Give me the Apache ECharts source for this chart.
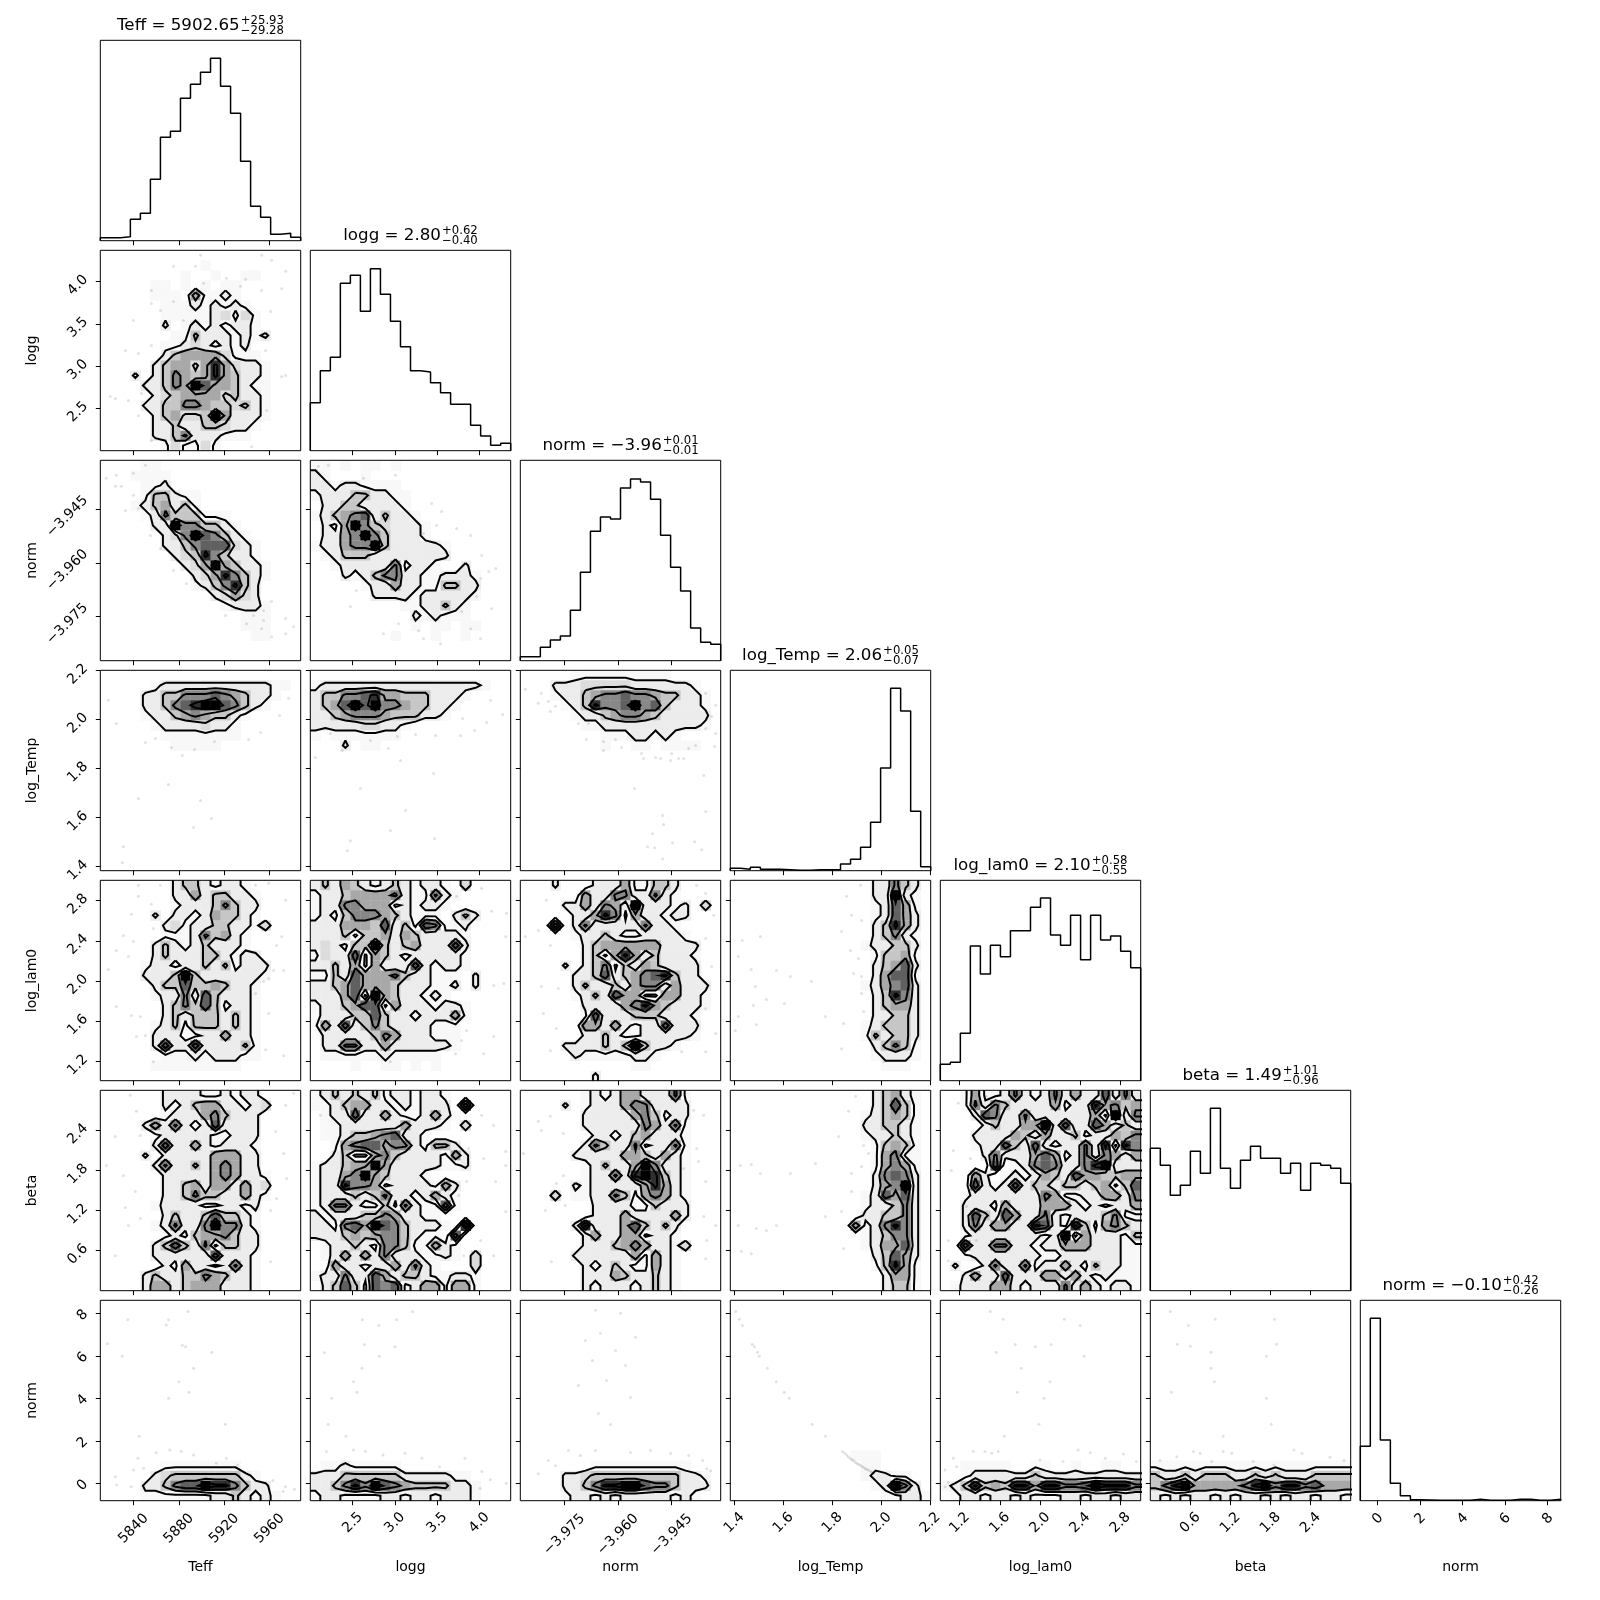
<!DOCTYPE html>
<html><head><meta charset="utf-8"><style>html,body{margin:0;padding:0;background:#fff}#c{width:1600px;height:1600px}</style>
<script src="https://cdn.jsdelivr.net/npm/echarts@6/dist/echarts.min.js"></script></head><body><div id="c"></div>
<script>
// ---- parameters: names, axis ranges, ticks
const paramNames = ["Teff","logg","norm","log_Temp","log_lam0","beta","norm"];
const ranges = [[5810.7,5987.5],[1.998,4.372],[-3.9873,-3.9313],[1.3837,2.2016],[1.007,3.003],[0,3],[-0.82,8.61]];
const tickValues = [[5840,5880,5920,5960],[2.5,3,3.5,4],[-3.975,-3.96,-3.945],[1.4,1.6,1.8,2,2.2],[1.2,1.6,2,2.4,2.8],[0.6,1.2,1.8,2.4],[0,2,4,6,8]];
const tickLabels = [["5840","5880","5920","5960"],["2.5","3.0","3.5","4.0"],["−3.975","−3.960","−3.945"],["1.4","1.6","1.8","2.0","2.2"],["1.2","1.6","2.0","2.4","2.8"],["0.6","1.2","1.8","2.4"],["0","2","4","6","8"]];
const titleMain = ["Teff = 5902.65","logg = 2.80","norm = −3.96","log_Temp = 2.06","log_lam0 = 2.10","beta = 1.49","norm = −0.10"];
const titleUp = ["+25.93","+0.62","+0.01","+0.05","+0.58","+1.01","+0.42"];
const titleDown = ["−29.28","−0.40","−0.01","−0.07","−0.55","−0.96","−0.26"];

// ---- 1D histograms (20 bins, arbitrary count scale)
const hTeff = [9,9,12,64,82,184,310,328,427,469,505,547,463,382,238,103,70,19,22,10];
const hLogg = [144,240,280,502,526,418,546,469,388,312,240,236,204,174,139,139,76,44,16,22];
const hNorm = [12,12,40,62,74,151,265,388,431,425,518,545,536,484,376,280,209,98,55,49];
const hTemp = [7,4,10,4,4,3,1,1,3,3,3,20,34,70,145,308,547,479,178,12];
const hLam0 = [49,55,142,404,320,406,372,450,450,520,548,437,406,496,363,496,422,434,388,339];
const hBeta = [427,376,286,316,418,352,547,367,307,391,433,397,397,352,382,301,382,376,367,322];
const hNorm2 = [163,547,182,52,15,3,2,1,1,1,1,4,1,1,1,4,4,1,1,4];
const hists = [hTeff,hLogg,hNorm,hTemp,hLam0,hBeta,hNorm2];

// ---- 2D histograms: 20 rows (top to bottom) of 20 density digits 0-9
const g_logg_Teff = ["00000000000000000000","00000000001000000000","00000000100100110000","00000110101011000000","00000111051121000000","00000011121212100000","00000011111231310000","00000020121212210000","00000001142221212000","00000011232121200000","00000024555531110000","00000245535853221000","00020246545854221000","00002246597554211000","00000234555534221000","00002244665443421000","00000245334952221000","00000224224432210000","00000224622211100000","00000013113100000000"];
const g_norm_Teff = ["00001100000000000000","00011110000000000000","00001120000000000000","00001442110000000000","00012452410000000000","00001264441110000000","00000229664421000000","00000023697642100000","00000022467773210000","00000002348642210000","00000000235954221000","00000000023586421000","00000000012468420000","00000000000235320000","00000000000012221000","00000000000000111000","00000000000000111000","00000000000000011000","00000000000000000000","00000000000000000000"];
const g_norm_logg = ["11010110100000000000","21000100000000000000","22122111100000000000","12224422110000000000","02244222210000000000","12456724221000000000","02159643222100000000","02256964222100000000","12256694222221000000","01244422222222000000","00122222612210020000","00021246622112221000","00000122522114422000","00000022221222221000","00000000011224210000","00000000002121110000","00000000001011011000","00000000100010010000","00000000000000000000","00000000000000000000"];
const g_temp_Teff = ["00000000000000000000","00000122222222222110","00002244666765422100","00002246789976421000","00001224565442100000","00000122223221000000","00000011111111000000","00000001111100000000","00000000000000000000","00000000000000000000","00000000000000000000","00000000000000000000","00000000000000000000","00000000000000000000","00000000000000000000","00000000000000000000","00000000000000000000","00000000000000000000","00000000000000000000","00000000000000000000"];
const g_temp_logg = ["00000000000000000000","12222222222222222100","24466785544422210000","24579796654422100000","22456665444221000000","22222332210000000000","10111111100000000000","00020110000000000000","00000000000000000000","00000000000000000000","00000000000000000000","00000000000000000000","00000000000000000000","00000000000000000000","00000000000000000000","00000000000000000000","00000000000000000000","00000000000000000000","00000000000000000000","00000000000000000000"];
const g_temp_norm = ["00000111111111100000","00022233333222222100","00012245667665442210","00001248667967422210","00000122456654222220","00000011222222222210","00000000111221210000","00000000100110111100","00000000000000000000","00000000000000000000","00000000000000000000","00000000000000000000","00000000000000000000","00000000000000000000","00000000000000000000","00000000000000000000","00000000000000000000","00000000000000000000","00000000000000000000","00000000000000000000"];
const g_lam_Teff = ["00000002442122100000","00000002252442210000","00000001222464220000","00000202212544210000","00000023122442213000","00000011126452100000","00000242124222100000","00000242224421220000","00001221224241222000","00002224942222221000","00000244744542210000","00000122627422210000","00000024647412210000","00000024244424210000","00000124144424210000","00000222112252210000","00000272272222410000","00000011121222110000","00000111111111000000","00000000000000000000"];
const g_lam_logg = ["24254212421221030000","12245555621162100000","12266555121221000000","12146665421110242000","22255547241761120000","22241445254222210000","23214494245222720000","13227154212222210000","22425152227212210000","11427555642211102000","22457555422211202000","22257195422121000000","12245771522212210000","12224474221222510000","15272464222211100000","02222246522211100000","02266225222222100000","01111112111110000000","00001001101010000000","00000000000000000000"];
const g_lam_norm = ["00020002225114420000","00000052266226210000","00002252652922212030","00000225861522122000","00070262222262210000","00000122421122221000","00000024555555222200","00000024158524222100","00002024614254222200","00000224724567842200","00000242242566252220","00000124275511552210","00000022225685422210","00000017222444222100","00000055252122722200","00000022421122222100","00002222424942210000","00000211111221000000","00000000000110000000","00000002000000000000"];
const g_lam_temp = ["00000000000000226420","00000000000000229210","00000000000000127510","00000000000000127520","00000000000000248520","00000000000000246210","00000000000001224420","00000000000000144510","00000000000000245720","00000000000000257710","00000000000001256720","00000000000000248620","00000000000000245520","00000000000000224420","00000000000001244420","00000000000001424420","00000000000000246410","00000000000000122210","00000000000000011100","00000000000000000000"];
const g_beta_Teff = ["00000022221121220000","00000021245522123000","00000012225642220000","00002526212722220000","00000122222112220000","00000272252122210000","00002022222555220000","00000262242565220000","00000022222565221000","00000022452552523000","00000022464422521000","00000122221122120000","00000024224744210000","00000126226966210000","00000012145564220000","00000247426144220000","00000222222722210000","00000021522126210000","00002422446542210000","00002552455522210000"];
const g_beta_logg = ["12424241221221000000","11245522121222070000","01227225211252100000","01122222252221030000","01124456722100000000","00156775662144200000","00241156422221520000","12245595222221120000","12256954222100000000","12286651222215200000","12224246221252100000","12662114162117100000","21222446522110000000","22167597642221080000","22245456642110700000","01224216641152100000","01252526222112103000","00522122526210003000","12262275244211221000","02474176712551551000"];
const g_beta_norm = ["00000012125522261000","00002012225662222000","00000022222564122000","00000022222265261000","00000002212452221000","00000026422612261000","00000222225542521000","00000012422596221000","00000012262898421000","00000212222258521000","00030112264156521000","00000002222114222000","00000002225222252000","00000282225742420000","00000025225512210000","00000022245652213000","00000222222515210000","00000021242115210000","00000022254224210000","00000021222124210000"];
const g_beta_temp = ["00000000000000245210","00000000000000247410","00000000000001245410","00000000000002244210","00000000000001224210","00000000000000145410","00000000000000156110","00000000000000156510","00000000000000267620","00000000000000256920","00000000000001275720","00000000000001224620","00000000000002244620","00000000000051268620","00000000000001246620","00000000000001255720","00000000000000247520","00000000000000148510","00000000000000025510","00000000000000024410"];
const g_beta_lam = ["00151126212625227262","00162642222512285645","00027622622222251926","00002422559272275242","00022225425224122546","00012274272122628186","00002622257512626525","00000701267622689222","00052012125427554455","00072127244244245147","00122222226511225526","00222152225552121225","00274275226212224611","00262552287218415642","00122222221291522214","00722662212255522211","00122222221122222211","02002622612252142211","00252272225525212111","01222552122262521221"];
const blank = "00000000000000000000";
const g_n2_Teff = [blank,blank,blank,blank,blank,blank,blank,blank,blank,blank,blank,blank,blank,blank,blank,blank,"00000011111111000000","00000234444444210000","00002246779886422000","00001111111224212100"];
const g_n2_logg = [blank,blank,blank,blank,blank,blank,blank,blank,blank,blank,blank,blank,blank,blank,blank,blank,"01121111100000000000","22244444422222110000","22468697654444221000","12211112212212221000"];
const g_n2_norm = [blank,blank,blank,blank,blank,blank,blank,blank,blank,blank,blank,blank,blank,blank,blank,blank,"00000001111111111000","00002234444444442210","00002246889976642220","00001221212222212100"];
const g_n2_temp = [blank,blank,blank,blank,blank,blank,blank,blank,blank,blank,blank,blank,blank,blank,blank,"00000000000011100000","00000000000001100000","00000000000001221100","00000000000000129620","00000000000000011221"];
const g_n2_lam = [blank,blank,blank,blank,blank,blank,blank,blank,blank,blank,blank,blank,blank,blank,blank,blank,"00111110011001001100","00122222242222222222","12484548858866798886","01221221211122122122"];
const g_n2_beta = [blank,blank,blank,blank,blank,blank,blank,blank,blank,blank,blank,blank,blank,blank,blank,blank,"11111111111111111111","42242444224242224444","46895555568968867555","21212212122121221221"];

// which 2D histogram sits in which [row, column]
const panels = [[1,0,g_logg_Teff],[2,0,g_norm_Teff],[2,1,g_norm_logg],[3,0,g_temp_Teff],[3,1,g_temp_logg],[3,2,g_temp_norm],[4,0,g_lam_Teff],[4,1,g_lam_logg],[4,2,g_lam_norm],[4,3,g_lam_temp],[5,0,g_beta_Teff],[5,1,g_beta_logg],[5,2,g_beta_norm],[5,3,g_beta_temp],[5,4,g_beta_lam],[6,0,g_n2_Teff],[6,1,g_n2_logg],[6,2,g_n2_norm],[6,3,g_n2_temp],[6,4,g_n2_lam],[6,5,g_n2_beta]];

// ---- outlying samples, expressed in histogram-bin units (col,row)
const s_1_0 = [[10,.5],[7.3,1.6],[9.5,1.6],[5.1,4],[5.1,5.3],[3.3,7],[6,6],[7.3,5.1],[8.3,7],[2.5,10],[3.8,10.3],[5.1,9.5],[1.5,14.8],[1,14.6],[2.8,15],[4.1,14.3],[3.8,16.5],[5.1,19],[17.1,1],[16.1,.5],[18.5,2.1],[16.1,4],[18.1,3.8],[17,6.1],[16.5,10],[18.5,12.5],[18.1,12.6],[16.6,16],[15.1,19.6],[12.6,2.8],[14.5,2.9],[10.3,3.3],[14,3.6]];
const s_2_0 = [[4.5,.5],[3.3,1.3],[1.6,1.5],[.6,1.8],[1.5,2.6],[2.1,2.6],[3.3,3.5],[2.5,5],[3.8,4.8],[5,7.5],[6,8.8],[7.3,11],[8.6,12.3],[9.5,12.1],[12.5,15.5],[16.3,16],[16.1,16.8],[18.5,15.8],[17.1,17.6],[19.3,16.6],[18.5,17.3],[14.6,16.3],[15.3,15.5],[17.1,14.1],[16.3,15]];
const s_2_1 = [[.8,.6],[1.8,.5],[.6,1],[5.3,1.8],[8.5,1.5],[12.1,4.3],[13.1,5.1],[11.3,7.3],[12.6,6.5],[14.6,6.8],[16,7.5],[17.1,9.5],[18.5,10.8],[17.8,11.1],[17,11.8],[16.6,13.6],[18.1,14.8],[16,16.8],[15.1,15.1],[17,17.8],[10.8,17],[8.8,16.3],[7.3,17.3],[11.3,17.8],[13,18.3],[4.6,13],[4,14.6]];
const s_3_0 = [[5.5,6.8],[7.1,7.7],[8.2,8.5],[9.4,7.9],[11.4,7.1],[4.5,7.2],[14.8,6.9],[16,6.2],[17.9,4.5],[6.8,11.4],[10,13],[3.8,12.8],[2.2,19.2],[2.3,17.6],[9.3,15.7],[11.1,14.8],[1.6,5.3],[.8,3],[18.8,2.8]];
const s_3_1 = [[15,6.5],[2,6.3],[6,7],[8.7,6.6],[10.5,6.4],[12.5,6.5],[16.4,6],[17.6,5.2],[3.2,8],[7.8,7.8],[9,9],[12.3,10.3],[5,11.8],[9.5,14],[8,16],[4,17],[3.7,18],[12.4,16.8],[15.2,4.8],[18,3],[19.2,4.4],[.5,8.7]];
const s_3_2 = [[11.4,11.8],[14.2,14.5],[14.3,15.4],[18.5,14.1],[13.2,16.3],[12.7,17.6],[13.4,17.7],[15.2,17.2],[17.4,17.1],[18.1,17.9],[14.2,18.8],[18.3,10.5],[6.6,6.9],[8.3,7.1],[9.5,6.9],[8.3,8],[10.1,7.7],[12.1,8.3],[12.3,8.8],[13.5,8.7],[14,8.8],[15,9],[15.8,8.8],[16.3,8.8],[15.1,8.3],[16.8,7.8],[17.5,7.5],[19.5,6.3],[19.4,7.6],[18.5,5.8],[2.1,2.3],[2.8,3.1],[1.8,3.3],[3,4.1],[3.5,3.6],[.5,1.9],[5.8,5.3],[6.8,5.3],[18.5,2.3],[19.5,3.5],[19.1,4.6]];
const s_4_0 = [[3.8,.5],[6,.5],[15.5,.5],[16.8,.3],[3.8,1.6],[18.5,2],[3.1,3.4],[5.1,2.4],[5.3,4.8],[2.3,5.5],[3.3,6.1],[1.6,7],[2.8,7.6],[18.1,5.6],[17.6,6.5],[.8,8.9],[18.3,9],[17.3,9],[16.3,10.1],[16.8,9.8],[15.5,11.3],[1.6,12.6],[3.1,13.5],[4,13.6],[16.8,13.3],[3.6,15.6],[4.5,15.5],[16.5,16.9],[5.3,18.1],[18.3,17.5]];
const s_4_1 = [[14.6,1.6],[18.1,3.1],[17.1,.8],[19.6,3.3],[19.5,5.6],[14.6,6],[19.3,10.3],[18.3,10.5],[14.5,17.3],[15.6,15],[18.3,15.6],[17.3,17.3],[8,18.1],[15.1,16]];
const s_4_2 = [[2.6,2],[1.8,5],[.5,5.6],[3,6.5],[2.3,13.3],[3.6,14.8],[3,17],[2.1,10.6],[3.8,10.8],[18.5,5.8],[19.3,3.5],[18.5,1.3],[17.6,.5],[19.1,8.6],[18.5,12.8],[19.5,15.3],[18.5,17.1],[16.1,17.1]];
const s_4_3 = [[11.6,1.6],[13,.5],[12.1,3.5],[13.1,4],[3,5.6],[1.2,6],[.8,7.6],[2.1,8.9],[4.6,9],[6,9.6],[8.1,10.1],[11.1,5.1],[12,7],[12.8,7.8],[12.3,9.3],[13.1,9.6],[2.5,10.6],[3.6,11.9],[5.4,12.3],[2.3,12.5],[.8,13.6],[9.5,13.6],[2.6,14.4],[11.3,14.3],[.5,15],[11.1,16.8],[15.3,18.1],[13.3,13.1],[13.1,11.3]];
const s_5_0 = [[3.6,2.1],[3,.5],[1.5,4.6],[4,4.5],[17.5,4.1],[18.5,1.5],[18.3,6.3],[.6,7.5],[2.3,8.5],[18.6,8.8],[3.5,10.1],[2.5,11.7],[4,12.8],[2.8,13.5],[17,12],[17.6,10.8],[1.5,16.5],[17,17.1],[19.3,.3]];
const s_5_1 = [[1,2.5],[17.1,2.5],[18.3,3.5],[15.8,5.8],[17.3,6.8],[19.5,6.1],[15.6,9.1],[18.5,9.1],[19.5,7.5],[14.8,10.5],[19.5,12.1],[17,15],[15.3,16.5],[18.3,16.5]];
const s_5_2 = [[3,2.6],[1.8,3.1],[2.1,4],[4.3,4.3],[.3,6.3],[4.3,8.5],[3.6,9.3],[2.5,12],[4.5,11.5],[17.3,2],[18.3,2.5],[17.6,5.8],[17.8,7.1],[16.3,7.8],[18.5,9.1],[18.3,12.6],[19.5,13.5],[18.6,15],[3.1,17.1],[18.5,16.8]];
const s_5_3 = [[12.5,.6],[11.8,2.1],[10.8,4.6],[1,7.5],[2.1,7.4],[3,8.3],[6,8.3],[8.5,7.3],[13.3,5.5],[13.8,6.3],[13.1,7.6],[12.1,8.3],[12.1,10.1],[11.1,12.1],[9.5,12.6],[2.6,13.8],[3.6,14],[4.6,13.5],[.8,13.5],[11.3,15.8],[2.1,16.3],[1.1,16.1]];
const s_5_4 = [[1.1,8],[3,6.8],[.8,15],[3.6,15],[.8,17],[1.8,1.3],[1.3,6],[4.6,.6],[2.6,11.6]];
const s_6_2 = [[7.5,1],[10,1.3],[8,3.3],[11.5,3.7],[6.5,4],[9.5,5],[7.2,6],[10.5,6.5],[8.6,8],[5.8,8.5],[11,9.7],[7.8,11.3],[9,12.4],[4.8,15],[6,15.5],[7.5,15],[11,15.2],[13,15],[15,15.3],[16.8,15.5],[2.8,16],[3.5,16.5],[18.2,16],[18.6,16.8],[1.8,17.3],[19,17]];
const binSamples = {"1,0":s_1_0,"2,0":s_2_0,"2,1":s_2_1,"3,0":s_3_0,"3,1":s_3_1,"3,2":s_3_2,"4,0":s_4_0,"4,1":s_4_1,"4,2":s_4_2,"4,3":s_4_3,"5,0":s_5_0,"5,1":s_5_1,"5,2":s_5_2,"5,3":s_5_3,"5,4":s_5_4,"6,2":s_6_2};

// ---- outlying samples of the last row, in data units (x, norm)
const d_6_0 = [[5817,6.56],[5835,7.7],[5830,5.98],[5871,7.7],[5869,7.45],[5888,8.08],[5883,6.5],[5886,6.43],[5909,6.16],[5893,5.41],[5880,4.78],[5889,4.28],[5871,4],[5921,2.78],[5845,2.21],[5844,1.18],[5860,1.44],[5872,1.57],[5882,1.49],[5893,1.33],[5922,1.18],[5913,.94],[5932,.86],[5840,.63],[5849,.71],[5824,.31],[5825,-.08],[5838,-.16],[5963,.13],[5974,-.16],[5982,-.28],[5972,-.39]];
const d_6_1 = [[2.164,6.15],[2.614,7.7],[2.81,7.42],[3.02,7.7],[3.21,8.08],[2.64,6.53],[3,6.43],[2.815,5.98],[2.61,5.41],[2.51,4.78],[2.55,4.28],[2.25,4],[2.21,2.78],[2.42,2.21],[2.19,1.49],[2.51,1.57],[2.65,1.49],[2.86,1.33],[3.12,1.41],[3.32,1.18],[3.53,.78],[3.83,1.18],[4.03,.55],[4.13,.16],[4.32,0],[4.01,-.24]];
const d_6_3 = [[1.406,8.08],[1.42,7.72],[1.433,7.42],[1.473,6.53],[1.482,6.43],[1.495,6.16],[1.502,5.98],[1.535,5.41],[1.571,4.78],[1.604,4.28],[1.624,4],[1.718,2.78],[1.772,2.21],[1.841,1.49],[1.85,1.41],[1.859,1.33],[1.865,1.25],[1.872,1.18],[1.879,1.12],[1.886,1.07],[1.893,1],[1.9,.94],[1.906,.9],[1.913,.86],[1.92,.8],[1.927,.75],[1.934,.7],[1.94,.66],[1.947,.62],[1.954,.58],[1.961,.52],[1.968,.47],[2.158,-.63]];
const d_6_4 = [[1.505,8.08],[1.634,7.72],[2.242,7.72],[2.4,7.42],[1.754,6.53],[1.953,6.43],[2.112,6.53],[1.565,6.16],[2.44,5.98],[1.814,5.41],[2.1,4.78],[1.774,4.28],[2.04,4],[1.99,2.78],[1.644,2.21],[1.335,1.49],[1.452,1.49],[1.52,1.41],[1.584,1.49],[1.136,1.18],[1.17,.78],[1.054,.63],[1.054,-.16],[1.087,.05],[2,1.1],[2.23,1.02],[2.38,1.57],[2.5,1.44],[2.65,1.18],[2.83,1.38],[2.96,1.02]];
const d_6_5 = [[.3,8.08],[.57,7.42],[.97,7.72],[1.86,7.72],[.405,6.54],[.6,6.45],[.91,6.16],[1.89,6.54],[1.74,5.98],[.91,5.41],[.96,4.78],[.316,4.28],[1.74,4],[1.81,2.78],[1.09,2.21],[.645,1.49],[.745,1.41],[.396,1.25],[.146,1.07],[.92,1.02],[1.09,1.49],[1.22,1.41],[2.15,1.57],[2.27,1.41],[2.69,1.22],[2.9,1.07],[1.85,.86],[1.54,1.02]];
const dataSamples = {"6,0":d_6_0,"6,1":d_6_1,"6,3":d_6_3,"6,4":d_6_4,"6,5":d_6_5};

// ---- styling
const FONT = '"DejaVu Sans"';
const grayRamp = ['#ffffff','#f8f8f8','#ececec','#dcdcdc','#c6c6c6','#a8a8a8','#888888','#606060','#303030','#000000'];
const contourLevels = [1.5,3.5,5.5,7.5];
const PANEL = 200.4, PITCH = 210, LEFT = 100.3, TOP = 40.3;
const xLabelMargin = [28,22,34,22,22,22,18];
const HIST_TOP = 601;

// marching squares over bin centres, with the edge bins repeated outside the panel
function traceContours(rows, level){
  const N = 20, v = (r,c)=>{ r=Math.max(0,Math.min(N-1,r)); c=Math.max(0,Math.min(N-1,c)); return +rows[r][c]; };
  const segs = [], pts = {};
  const hEdge=(r,c)=>{const k='h'+r+'_'+c; if(!pts[k]){const a=v(r,c),b=v(r,c+1); pts[k]=[c+.5+(level-a)/(b-a), r+.5];} return k;};
  const vEdge=(r,c)=>{const k='v'+r+'_'+c; if(!pts[k]){const a=v(r,c),b=v(r+1,c); pts[k]=[c+.5, r+.5+(level-a)/(b-a)];} return k;};
  for(let r=-1;r<N;r++) for(let c=-1;c<N;c++){
    const a=v(r,c),b=v(r,c+1),d=v(r+1,c),e=v(r+1,c+1);
    const A=a>level,B=b>level,D=d>level,E=e>level;
    const cross=[];
    if(A!==B) cross.push(hEdge(r,c));
    if(B!==E) cross.push(vEdge(r,c+1));
    if(D!==E) cross.push(hEdge(r+1,c));
    if(A!==D) cross.push(vEdge(r,c));
    if(cross.length===2) segs.push(cross);
    else if(cross.length===4){
      const hi=(a+b+d+e)/4>level;
      if(A===hi){ segs.push([cross[0],cross[1]]); segs.push([cross[2],cross[3]]); }
      else { segs.push([cross[0],cross[3]]); segs.push([cross[1],cross[2]]); }
    }
  }
  const adj={}; segs.forEach((s,i)=>{(adj[s[0]]=adj[s[0]]||[]).push(i);(adj[s[1]]=adj[s[1]]||[]).push(i);});
  const used=new Array(segs.length).fill(false), out=[];
  const walk=(start,i)=>{ const line=[start]; let cur=start, idx=i;
    while(idx!==undefined){ used[idx]=true; const s=segs[idx]; cur=s[0]===cur?s[1]:s[0]; line.push(cur);
      idx=(adj[cur]||[]).find(j=>!used[j]); }
    return line; };
  Object.keys(adj).filter(k=>adj[k].length===1).forEach(k=>{ if(!used[adj[k][0]]) out.push(walk(k,adj[k][0])); });
  segs.forEach((s,i)=>{ if(!used[i]) out.push(walk(s[0],i)); });
  return out.map(l=>l.map(k=>pts[k]));
}

const grids=[], xAxes=[], yAxes=[], series=[], graphics=[], leftPanels=[];
const measure=document.createElement('canvas').getContext('2d');

function addPanel(row,col,isDiag){
  const idx=grids.length;
  grids.push({left:LEFT+PITCH*col, top:TOP+PITCH*row, width:PANEL, height:PANEL, show:false});
  const bottom=row===6, left=col===0&&!isDiag, xr=ranges[col];
  if(left) leftPanels.push([idx,row]);
  xAxes.push({gridIndex:idx,type:'value',position:'bottom',min:xr[0],max:xr[1],splitLine:{show:false},
    axisLine:{show:false,onZero:false},
    axisTick:{show:true,length:4.5,inside:false,lineStyle:{color:'#000',width:1},customValues:tickValues[col]},
    minorTick:{show:false},
    axisLabel:{show:bottom,customValues:tickValues[col],rotate:45,margin:xLabelMargin[col],align:'center',verticalAlign:'middle',
      fontFamily:FONT,fontSize:14,color:'#000',hideOverlap:false,
      formatter:v=>{const i=tickValues[col].findIndex(t=>Math.abs(t-v)<1e-9);return i<0?'':tickLabels[col][i];}},
    name:bottom?paramNames[col]:'',nameLocation:'middle',nameGap:60,nameMoveOverlap:false,nameTextStyle:{fontFamily:FONT,fontSize:14,color:'#000'}});
  if(isDiag){
    yAxes.push({gridIndex:idx,type:'value',position:'left',min:0,max:HIST_TOP,show:true,splitLine:{show:false},
      axisLine:{show:false,onZero:false},axisTick:{show:false},axisLabel:{show:false}});
  } else {
    const yr=ranges[row];
    yAxes.push({gridIndex:idx,type:'value',position:'left',min:yr[0],max:yr[1],splitLine:{show:false},
      axisLine:{show:false,onZero:false},
      axisTick:{show:true,length:4.5,lineStyle:{color:'#000',width:1},customValues:tickValues[row]},
      axisLabel:{show:false},
      name:left?paramNames[row]:'',nameLocation:'middle',nameGap:61,nameMoveOverlap:false,nameTextStyle:{fontFamily:FONT,fontSize:14,color:'#000'}});
  }
  return idx;
}
function frame(idx,xr,yr){
  series.push({type:'line',xAxisIndex:idx,yAxisIndex:idx,silent:true,showSymbol:false,clip:false,z:6,animation:false,
    lineStyle:{color:'#000',width:1},
    data:[[xr[0],yr[0]],[xr[1],yr[0]],[xr[1],yr[1]],[xr[0],yr[1]],[xr[0],yr[0]]]});
}

// diagonal histograms
for(let k=0;k<7;k++){
  const idx=addPanel(k,k,true), r=ranges[k], w=(r[1]-r[0])/20, h=hists[k];
  const line=[[r[0],0]]; h.forEach((v,i)=>line.push([r[0]+i*w,v]));
  line.push([r[1],h[19]]); line.push([r[1],0]);
  series.push({type:'line',step:'end',xAxisIndex:idx,yAxisIndex:idx,showSymbol:false,animation:false,silent:true,z:3,
    lineStyle:{color:'#000',width:1.5},data:line});
  frame(idx,r,[0,HIST_TOP]);
}
// 2D panels
panels.forEach(([row,col,rows])=>{
  const idx=addPanel(row,col,false), xr=ranges[col], yr=ranges[row];
  const X=b=>xr[0]+b/20*(xr[1]-xr[0]), Y=b=>yr[1]-b/20*(yr[1]-yr[0]);
  const hw=(xr[1]-xr[0])/40, hh=(yr[1]-yr[0])/40;
  const cells=[];
  rows.forEach((s,r)=>{ for(let c=0;c<20;c++){ const d=+s[c]; if(d>0) cells.push([X(c+.5),Y(r+.5),d]); }});
  series.push({type:'custom',xAxisIndex:idx,yAxisIndex:idx,silent:true,animation:false,z:1,data:cells,clip:true,
    encode:{x:0,y:1},
    renderItem:(p,api)=>{ const a=api.coord([api.value(0)-hw,api.value(1)+hh]), b=api.coord([api.value(0)+hw,api.value(1)-hh]);
      return {type:'rect',shape:{x:a[0],y:a[1],width:b[0]-a[0]+.4,height:b[1]-a[1]+.4},style:{fill:grayRamp[api.value(2)]}}; }});
  const key=row+','+col;
  const pts=dataSamples[key]||(binSamples[key]||[]).map(p=>[X(p[0]),Y(p[1])]);
  series.push({type:'scatter',xAxisIndex:idx,yAxisIndex:idx,silent:true,animation:false,z:2,symbolSize:3,
    itemStyle:{color:'rgba(0,0,0,0.14)'},data:pts});
  const polys=[];
  contourLevels.forEach(l=>traceContours(rows,l).forEach(line=>polys.push(line.map(p=>[X(p[0]),Y(p[1])]))));
  series.push({type:'custom',xAxisIndex:idx,yAxisIndex:idx,silent:true,animation:false,z:4,clip:true,
    data:polys.map(p=>p[0]),encode:{x:0,y:1},
    renderItem:(p,api)=>({type:'polyline',shape:{points:polys[p.dataIndex].map(q=>api.coord(q))},
      style:{fill:'none',stroke:'#000',lineWidth:2,lineJoin:'miter',lineCap:'butt'}})});
  frame(idx,xr,yr);
});
// titles
for(let k=0;k<7;k++){
  const fMain='16.7px '+FONT, fSmall='11.7px '+FONT;
  measure.font=fMain; const wm=measure.measureText(titleMain[k]).width;
  measure.font=fSmall; const ws=Math.max(measure.measureText(titleUp[k]).width,measure.measureText(titleDown[k]).width);
  const cx=LEFT+PITCH*k+PANEL/2, x0=cx-(wm+ws+1)/2, y=TOP+PITCH*k;
  graphics.push({type:'text',x:x0,y:y-14.4,silent:true,style:{text:titleMain[k],font:fMain,fill:'#000',align:'left',verticalAlign:'middle'}});
  graphics.push({type:'text',x:x0+wm+1,y:y-19.6,silent:true,style:{text:titleUp[k],font:fSmall,fill:'#000',align:'left',verticalAlign:'middle'}});
  graphics.push({type:'text',x:x0+wm+1,y:y-9.8,silent:true,style:{text:titleDown[k],font:fSmall,fill:'#000',align:'left',verticalAlign:'middle'}});
}
const chart=echarts.init(document.getElementById('c'),null,{renderer:'canvas',width:1600,height:1600});
chart.setOption({animation:false,backgroundColor:'#fff',grid:grids,xAxis:xAxes,yAxis:yAxes,series:series});
// left-column tick labels: rotated text placed through the y axis scale
const fTick='14px '+FONT; measure.font=fTick;
leftPanels.forEach(([idx,row])=>{
  tickValues[row].forEach((v,i)=>{
    const p=chart.convertToPixel({gridIndex:idx},[ranges[0][0],v]), t=tickLabels[row][i], w=measure.measureText(t).width;
    const bbox=(w+14)*Math.SQRT1_2;
    graphics.push({type:'text',x:p[0]-9.7-bbox/2,y:p[1]+1+w*0.12,rotation:Math.PI/4,silent:true,
      style:{text:t,font:fTick,fill:'#000',align:'center',verticalAlign:'middle'}});
  });
});
chart.setOption({graphic:graphics});
</script></body></html>
